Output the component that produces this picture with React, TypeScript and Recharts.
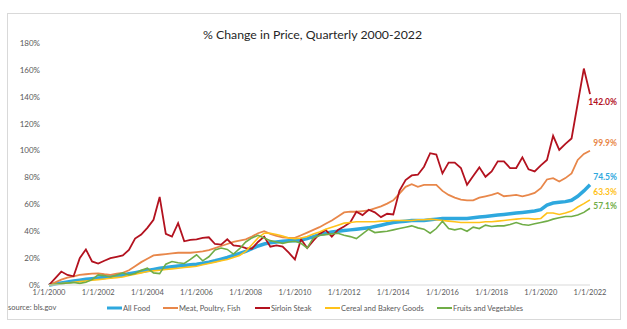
import React from 'react';
import { LineChart, Line, XAxis, YAxis, Legend, LabelList } from 'recharts';

// Quarterly categories 1/1/2000 ... 1/1/2022
const quarters: string[] = [];
for (let y = 2000; y <= 2022; y++) {
  for (const m of [1, 4, 7, 10]) {
    if (y === 2022 && m > 1) break;
    quarters.push(`${m}/1/${y}`);
  }
}

const xTickLabels = ['1/1/2000', '1/1/2002', '1/1/2004', '1/1/2006', '1/1/2008', '1/1/2010', '1/1/2012', '1/1/2014', '1/1/2016', '1/1/2018', '1/1/2020', '1/1/2022'];
const yTicks = [0, 20, 40, 60, 80, 100, 120, 140, 160, 180];

const allFood = [
  0, 0.8, 1.6, 2.3, 3, 3.6, 4.2, 4.7, 5.2, 5.6, 6.2, 6.8, 7.5, 8.3, 9.2, 10, 10.8, 11.6, 12.4, 13,
  13.6, 14.1, 14.5, 15, 15.5, 16.2, 17, 18, 19.2, 20.5, 22, 23.5, 25, 27, 29, 30.5, 31.5, 32, 32.5, 33,
  33, 33.5, 34.5, 36, 37.5, 38.5, 39.5, 40, 40.5, 41, 41.5, 42, 42.5, 43.5, 44.5, 45.5, 46.5, 47, 47.5, 48,
  48, 48, 48.5, 49, 49.5, 49.5, 49.5, 49.5, 49.5, 50, 50.5, 51, 51.5, 52, 52.5, 53, 53.5, 54, 54.5, 55,
  56, 59.5, 61, 61.5, 62, 63, 66, 70, 74.5,
];

const meat = [
  0, 2, 4, 5.5, 6.5, 7.5, 8, 8.5, 8.7, 8, 7.5, 8.5, 9, 11, 14, 17, 19.5, 22, 22.5, 23,
  23.5, 24, 24, 24, 24.5, 25, 26, 27.5, 29, 30.5, 32, 33, 34, 36, 38.5, 40, 38, 36.5, 35.5, 35,
  35, 37, 39, 41, 43, 45.5, 48, 51, 54, 54.5, 54.5, 55, 55.5, 57, 58.5, 60.5, 63, 68, 73, 75,
  73, 74.5, 74.5, 74.5, 70, 67, 65, 63.5, 63, 63, 65, 66, 67, 68.5, 66, 66.5, 67, 66, 67, 68.5,
  72, 78.5, 79.5, 77, 79.5, 83, 93, 97.5, 99.9,
];

const sirloin = [
  0, 5, 10, 7.5, 6.5, 20, 26.5, 17.5, 16, 18, 20, 21, 22, 26, 34.5, 37.5, 42.5, 48.5, 65.5, 38,
  36, 46, 32.5, 33.5, 34, 35, 35.5, 30.5, 30, 34, 29.5, 29, 27.5, 27, 32, 36, 28.5, 29.5, 28.5, 24,
  19, 34, 27.5, 33, 38, 41, 36, 41, 43.5, 46.5, 54.5, 52, 56, 54, 50.5, 53, 52.5, 70, 78, 81.5,
  82, 88, 98, 97, 83, 91, 91, 87, 74.5, 81, 87.5, 80.5, 84.5, 92, 92, 87, 87, 95, 86, 84.5,
  89, 93, 111, 100.5, 105, 109, 135, 161, 142,
];

const cereal = [
  0, 0.5, 1, 1.5, 2, 2.5, 3, 3.5, 4, 4.5, 5, 5.5, 6, 7, 8, 9, 10, 10.5, 11, 11.5,
  12, 12.5, 13, 13.5, 14, 15, 16, 17, 18, 19, 20.5, 22, 25, 30, 35, 38.5, 38.5, 37.5, 36.5, 35,
  34.5, 35, 36, 38, 39.5, 41.5, 43, 44.5, 46, 46.5, 47, 47, 47, 47, 47.5, 47.5, 48, 48, 48, 48,
  48.5, 48.5, 49, 48.5, 48, 47.5, 47, 46.5, 46.5, 46.5, 46.5, 47, 47, 47.5, 48, 48.5, 49, 49.5, 49.5, 49,
  49.5, 53.5, 53.5, 52.5, 53.5, 55, 58, 60.5, 63.3,
];

const fruitsVeg = [
  0, 0.5, 1, 1.5, 1.8, 1.2, 2, 4, 7.5, 7, 6, 7.5, 9, 7.5, 8.5, 11, 12.5, 9, 8.5, 15.5,
  17.5, 16.5, 16, 19, 22.5, 18, 21, 26, 27.5, 26.5, 23, 27, 32, 35, 37, 35, 33, 32, 31, 32,
  32.5, 31, 27.5, 35, 37, 37.5, 38, 38.5, 37, 36, 34.5, 38, 41.5, 39, 39.5, 40, 41, 42, 43, 44,
  42.5, 41.5, 38.5, 42, 47.5, 42, 41, 42, 40, 43, 42, 44.5, 43.5, 44, 44, 45, 46.5, 45, 44.5, 45.5,
  46.5, 47.5, 49, 50, 51, 51, 52, 54, 57.1,
];

const seriesNames = ['All Food', 'Meat, Poultry, Fish', 'Sirloin Steak', 'Cereal and Bakery Goods', 'Fruits and Vegetables'];
const seriesKeys = ['allFood', 'meat', 'sirloin', 'cereal', 'fruitsVeg'];
const seriesColors = ['#2EA8DE', '#E8874A', '#B3121F', '#FFC21A', '#70AD47'];
const seriesWidths = [3.5, 1.8, 1.8, 1.6, 1.6];
const labelDy = [-8, -8, 8, -8, -2];
const legendLefts = [107, 163, 255, 325, 437];

const data = quarters.map((q, i) => ({
  date: q,
  allFood: allFood[i],
  meat: meat[i],
  sirloin: sirloin[i],
  cereal: cereal[i],
  fruitsVeg: fruitsVeg[i],
}));

const LAST = quarters.length - 1;
const FONT = 'Lato, "Open Sans", sans-serif';

const makeEndLabel = (color: string, dy: number) => (props: any) => {
  const { x, y, index, value } = props;
  if (index !== LAST) return null;
  return (
    <text x={x + 27} y={y + dy} textAnchor="end" dominantBaseline="central" fill={color} fontSize={8.5} fontWeight={700} fontFamily={FONT}>
      {Number(value).toFixed(1)}%
    </text>
  );
};

const renderLegend = () => (
  <div style={{ position: 'relative', width: 627, height: 12, fontFamily: FONT, fontSize: 7.5, color: '#595959' }}>
    {seriesNames.map((name, i) => (
      <div key={name} style={{ position: 'absolute', left: legendLefts[i], top: 0, display: 'flex', alignItems: 'center', whiteSpace: 'nowrap', height: 12 }}>
        <svg width={16} height={12} style={{ display: 'block' }}>
          <line x1={0} x2={15} y1={6} y2={6} stroke={seriesColors[i]} strokeWidth={i === 0 ? 3 : 2} />
        </svg>
        <span>{name}</span>
      </div>
    ))}
  </div>
);

export default function App() {
  return (
    <div style={{ position: 'absolute', left: 0, top: 0, width: 627, height: 329, background: '#fff', fontFamily: FONT }}>
      <div style={{ position: 'absolute', left: 7, top: 13, width: 614, height: 307, border: '1px solid #d9d9d9', boxSizing: 'border-box' }} />
      <div style={{ position: 'absolute', left: 0, top: 27, width: 627, textAlign: 'center', fontSize: 12.3, color: '#262626' }}>
        <span style={{ position: 'relative', left: -1 }}>% Change in Price, Quarterly 2000-2022</span>
      </div>
      <div style={{ position: 'absolute', left: 8, top: 303, fontSize: 7.5, color: '#595959' }}>source: bls.gov</div>
      <div style={{ position: 'absolute', left: 0, top: 0 }}>
        <LineChart width={627} height={329} data={data} margin={{ top: 43, right: 37, bottom: 24, left: 9 }}>
          <XAxis
            dataKey="date"
            ticks={xTickLabels}
            interval={0}
            height={20}
            tickLine={false}
            tickSize={3}
            tickMargin={2}
            axisLine={{ stroke: '#d9d9d9' }}
            tick={{ fontSize: 7.5, fill: '#595959', fontFamily: FONT }}
          />
          <YAxis
            type="number"
            domain={[0, 180]}
            ticks={yTicks}
            width={40}
            axisLine={false}
            tickLine={false}
            tickMargin={3}
            tickFormatter={(v: number) => `${v}%`}
            tick={{ fontSize: 8, fill: '#595959', fontFamily: FONT }}
          />
          <Legend layout="horizontal" verticalAlign="middle" align="center" content={renderLegend} wrapperStyle={{ left: 0, top: 302, width: 627 }} />
          {seriesKeys.map((k, i) => (
            <Line
              key={k}
              type="linear"
              dataKey={k}
              name={seriesNames[i]}
              stroke={seriesColors[i]}
              strokeWidth={seriesWidths[i]}
              dot={false}
              activeDot={false}
              isAnimationActive={false}
            >
              <LabelList dataKey={k} content={makeEndLabel(seriesColors[i], labelDy[i])} />
            </Line>
          ))}
        </LineChart>
      </div>
    </div>
  );
}
